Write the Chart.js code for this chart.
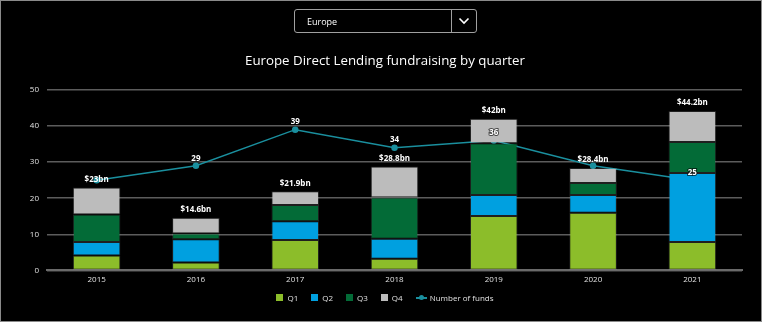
<!DOCTYPE html>
<html>
<head>
<meta charset="utf-8">
<script src="https://cdn.jsdelivr.net/npm/chart.js@4.4.1/dist/chart.umd.min.js"></script>
<style>
  html, body { margin: 0; padding: 0; background: #000; }
  body { width: 762px; height: 322px; overflow: hidden; position: relative; }
  .frame { position: absolute; left: 0; top: 0; width: 760px; height: 320px; border: 1px solid #8a8a8a; }
  .chart-box { position: absolute; left: 0; top: 0; width: 762px; height: 322px; }
  .select { position: absolute; left: 294px; top: 9px; width: 181px; height: 22px;
            border: 1px solid #a0a0a0; border-radius: 3px; font: 9px "Open Sans", sans-serif; color: #fff; }
  .select span { position: absolute; left: 12px; top: 5px; }
  .select .btn { position: absolute; right: 0; top: 0; width: 24px; height: 22px; border-left: 1px solid #a0a0a0; }
  .select .btn svg { position: absolute; left: 6px; top: 7px; }
  .legend { position: absolute; left: 4px; top: 292px; width: 762px; display: flex; justify-content: center;
            font: 8px "Open Sans", sans-serif; color: #e0e0e0; }
  .legend .item { display: flex; align-items: center; margin: 0 6.5px; }
  .legend .sw { width: 7px; height: 7px; margin-right: 4px; }
  .legend .ln { position: relative; width: 11px; height: 2px; margin-right: 3px; }
  .legend .ln i { position: absolute; left: 3px; top: -2px; width: 5px; height: 5px; border-radius: 50%; }
</style>
</head>
<body>
<div class="frame"></div>
<div class="chart-box"><canvas id="fundChart"></canvas></div>
<div class="select"><span>Europe</span><div class="btn">
  <svg width="12" height="8" viewBox="0 0 12 8"><path d="M1.5 1.5 L6 6 L10.5 1.5" stroke="#fff" stroke-width="1.6" fill="none"/></svg>
</div></div>
<div class="legend" id="legend"></div>
<script>
// ─── Data ─────────────────────────────────────────────────────────────────
const years = ['2015', '2016', '2017', '2018', '2019', '2020', '2021'];
const q1 = [4.1, 2.2, 8.4, 3.2, 15.1, 16.0, 7.9];
const q2 = [3.8, 6.4, 5.2, 5.6, 5.8, 4.9, 19.1];
const q3 = [7.6, 1.6, 4.5, 11.4, 14.3, 3.3, 8.6];
const q4 = [7.5, 4.4, 3.8, 8.6, 6.8, 4.2, 8.6];
const numberOfFunds = [25, 29, 39, 34, 36, 29, 25];
const yTicks = [0, 10, 20, 30, 40, 50];

const colors = { q1: '#8cbd2a', q2: '#00a0e0', q3: '#036b37', q4: '#bcbcbc', line: '#1a8f9e' };

const totals = years.map((_, i) => q1[i] + q2[i] + q3[i] + q4[i]);
const fmtTotal = v => '$' + parseFloat(v.toFixed(1)) + 'bn';

// ─── Labels: totals above bars, fund counts above line points ────────────
const labelPlugin = {
    id: 'labels',
    afterDatasetsDraw(chart) {
        const ctx = chart.ctx;
        const y = chart.scales.y;
        const lineMeta = chart.getDatasetMeta(4);
        ctx.save();
        ctx.font = 'bold 8px "Open Sans", sans-serif';
        ctx.textAlign = 'center';
        ctx.textBaseline = 'middle';
        ctx.fillStyle = '#fff';
        const totalY = [];
        totals.forEach((t, i) => {
            const x = chart.getDatasetMeta(0).data[i].x;
            const ty = y.getPixelForValue(t) - 8;
            totalY.push(ty);
            ctx.fillText(fmtTotal(t), x, ty);
        });
        ctx.lineWidth = 2;
        ctx.strokeStyle = 'rgba(0,0,0,0.6)';
        lineMeta.data.forEach((pt, i) => {
            const ly = pt.y - 7.5;
            if (Math.abs(ly - totalY[i]) < 10) return; // hidden behind total label
            ctx.strokeText(String(numberOfFunds[i]), pt.x, ly);
            ctx.fillText(String(numberOfFunds[i]), pt.x, ly);
        });
        ctx.restore();
    }
};

const barSet = (label, data, color) => ({
    type: 'bar', label, data, backgroundColor: color, order: 1,
    borderColor: 'rgba(255,255,255,0.12)', borderWidth: 1, borderSkipped: false,
    barPercentage: 0.48, categoryPercentage: 1
});

const chart = new Chart(document.getElementById('fundChart'), {
    data: {
        labels: years,
        datasets: [
            barSet('Q1', q1, colors.q1),
            barSet('Q2', q2, colors.q2),
            barSet('Q3', q3, colors.q3),
            barSet('Q4', q4, colors.q4),
            {
                // drawn underneath the bars
                type: 'line', label: 'Number of funds', data: numberOfFunds, order: 5,
                borderColor: colors.line, backgroundColor: colors.line,
                borderWidth: 1.5, pointRadius: 2.5, pointHoverRadius: 3, tension: 0
            }
        ]
    },
    options: {
        responsive: true,
        maintainAspectRatio: false,
        animation: false,
        layout: { padding: { top: 53, left: 28, right: 20, bottom: 40 } },
        plugins: {
            legend: { display: false },
            tooltip: { enabled: false },
            title: {
                display: true,
                text: 'Europe Direct Lending fundraising by quarter',
                color: '#ffffff',
                font: { family: '"Open Sans", sans-serif', size: 13.3, weight: 'normal' },
                padding: { top: 0, bottom: 21 }
            }
        },
        scales: {
            x: {
                stacked: true,
                grid: { display: false },
                border: { color: '#6a6a6a', width: 2 },
                ticks: { color: '#e0e0e0', font: { family: '"Open Sans", sans-serif', size: 8 }, padding: -3 }
            },
            y: {
                stacked: true,
                min: 0, max: 50,
                afterBuildTicks: axis => { axis.ticks = yTicks.map(v => ({ value: v })); },
                afterFit: axis => { axis.width = 19; },
                grid: { color: '#5c5c5c', lineWidth: 1.5, drawTicks: false },
                border: { display: false },
                ticks: { color: '#e0e0e0', font: { family: '"Open Sans", sans-serif', size: 8 }, padding: 8 }
            }
        }
    },
    plugins: [labelPlugin]
});

// ─── Legend ──────────────────────────────────────────────────────────────
const legendEl = document.getElementById('legend');
chart.data.datasets.forEach(ds => {
    const item = document.createElement('div');
    item.className = 'item';
    if (ds.type === 'line') {
        item.innerHTML = '<span class="ln" style="background:' + ds.borderColor + '"><i style="background:' +
            ds.borderColor + '"></i></span>' + ds.label;
    } else {
        item.innerHTML = '<span class="sw" style="background:' + ds.backgroundColor + '"></span>' + ds.label;
    }
    legendEl.appendChild(item);
});
</script>
</body>
</html>
